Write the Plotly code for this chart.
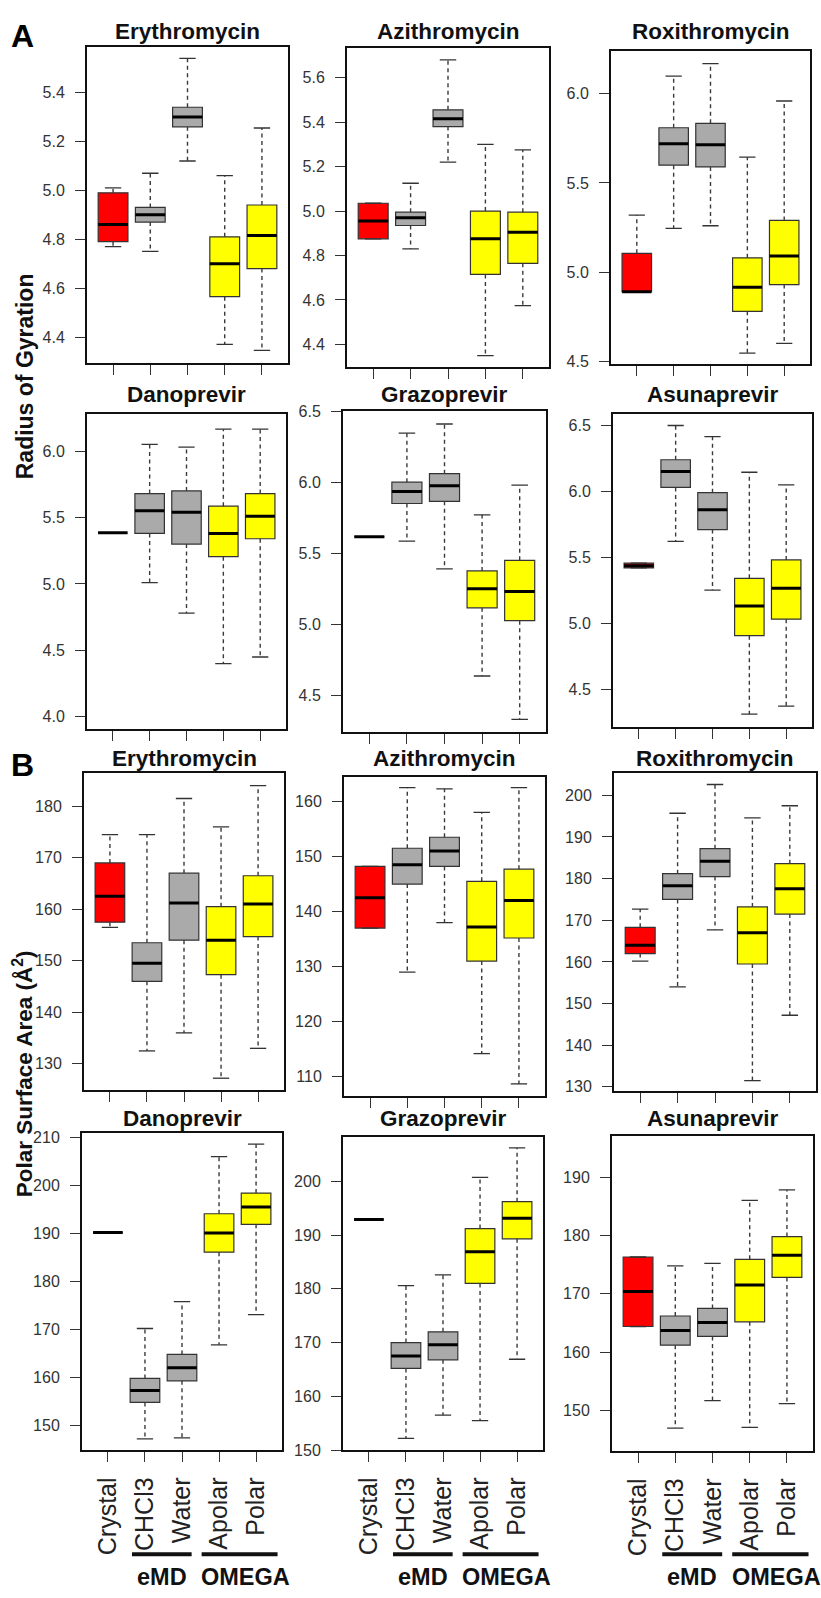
import plotly.graph_objects as go

W, H = 821, 1598
FONT = "Liberation Sans, Arial, sans-serif"

categories = ["Crystal", "CHCl3", "Water", "Apolar", "Polar"]
box_colors = ["#FF0000", "#AAAAAA", "#AAAAAA", "#FFFF00", "#FFFF00"]

# ---------------- Radius of Gyration (A) ----------------
ery_rg_lo  = [4.77, 4.75, 5.12, 4.37, 4.345]
ery_rg_q1  = [4.79, 4.87, 5.26, 4.565, 4.68]
ery_rg_med = [4.86, 4.90, 5.30, 4.70, 4.815]
ery_rg_q3  = [4.99, 4.93, 5.34, 4.81, 4.94]
ery_rg_hi  = [5.01, 5.07, 5.54, 5.06, 5.255]

azi_rg_lo  = [4.875, 4.83, 5.22, 4.35, 4.575]
azi_rg_q1  = [4.875, 4.935, 5.38, 4.715, 4.765]
azi_rg_med = [4.955, 4.97, 5.415, 4.875, 4.905]
azi_rg_q3  = [5.035, 4.995, 5.455, 5.00, 4.995]
azi_rg_hi  = [5.035, 5.125, 5.68, 5.30, 5.275]

rox_rg_lo  = [4.89, 5.245, 5.26, 4.545, 4.60]
rox_rg_q1  = [4.89, 5.60, 5.59, 4.78, 4.93]
rox_rg_med = [4.89, 5.72, 5.715, 4.915, 5.09]
rox_rg_q3  = [5.105, 5.81, 5.835, 5.08, 5.29]
rox_rg_hi  = [5.32, 6.10, 6.17, 5.645, 5.96]

dan_rg_lo  = [5.385, 5.01, 4.78, 4.40, 4.45]
dan_rg_q1  = [5.385, 5.38, 5.30, 5.205, 5.34]
dan_rg_med = [5.385, 5.55, 5.54, 5.38, 5.51]
dan_rg_q3  = [5.385, 5.68, 5.70, 5.585, 5.68]
dan_rg_hi  = [5.385, 6.05, 6.03, 6.165, 6.165]

gra_rg_lo  = [5.615, 5.585, 5.39, 4.635, 4.33]
gra_rg_q1  = [5.615, 5.85, 5.865, 5.115, 5.025]
gra_rg_med = [5.615, 5.935, 5.975, 5.25, 5.23]
gra_rg_q3  = [5.615, 6.00, 6.06, 5.375, 5.45]
gra_rg_hi  = [5.615, 6.345, 6.41, 5.77, 5.98]

asu_rg_lo  = [5.42, 5.62, 5.25, 4.31, 4.37]
asu_rg_q1  = [5.42, 6.03, 5.71, 4.905, 5.03]
asu_rg_med = [5.435, 6.15, 5.86, 5.13, 5.265]
asu_rg_q3  = [5.455, 6.24, 5.99, 5.34, 5.48]
asu_rg_hi  = [5.455, 6.50, 6.415, 6.145, 6.05]

# ---------------- Polar Surface Area (B) ----------------
ery_psa_lo  = [156.5, 132.5, 136.0, 127.2, 133.0]
ery_psa_q1  = [157.5, 146.0, 154.0, 147.3, 154.7]
ery_psa_med = [162.5, 149.5, 161.2, 154.0, 161.0]
ery_psa_q3  = [169.0, 153.5, 167.0, 160.5, 166.5]
ery_psa_hi  = [174.5, 174.5, 181.5, 176.0, 184.0]

azi_psa_lo  = [137.0, 129.0, 138.0, 114.2, 108.7]
azi_psa_q1  = [137.0, 145.0, 148.2, 131.0, 135.2]
azi_psa_med = [142.5, 148.5, 151.0, 137.2, 142.0]
azi_psa_q3  = [148.2, 151.5, 153.5, 145.5, 147.7]
azi_psa_hi  = [148.2, 162.5, 162.3, 158.0, 162.5]

rox_psa_lo  = [160.2, 154.0, 167.7, 131.5, 147.2]
rox_psa_q1  = [162.0, 175.0, 180.5, 159.5, 171.5]
rox_psa_med = [164.0, 178.3, 184.2, 167.0, 177.6]
rox_psa_q3  = [168.3, 181.2, 187.2, 173.2, 183.6]
rox_psa_hi  = [172.7, 195.7, 202.6, 194.6, 197.5]

dan_psa_lo  = [190.2, 147.2, 147.4, 166.8, 173.1]
dan_psa_q1  = [190.2, 154.8, 159.3, 186.1, 191.9]
dan_psa_med = [190.2, 157.3, 162.0, 190.1, 195.5]
dan_psa_q3  = [190.2, 159.8, 164.8, 194.1, 198.4]
dan_psa_hi  = [190.2, 170.2, 175.8, 206.0, 208.6]

gra_psa_lo  = [192.9, 152.2, 156.5, 155.5, 166.9]
gra_psa_q1  = [192.9, 165.2, 166.8, 181.0, 189.3]
gra_psa_med = [192.9, 167.5, 169.6, 186.9, 193.1]
gra_psa_q3  = [192.9, 170.0, 172.0, 191.2, 196.2]
gra_psa_hi  = [192.9, 180.6, 182.6, 200.7, 206.2]

asu_psa_lo  = [164.4, 147.0, 151.7, 147.1, 151.2]
asu_psa_q1  = [164.4, 161.2, 162.7, 165.2, 172.8]
asu_psa_med = [170.4, 163.7, 165.1, 171.5, 176.6]
asu_psa_q3  = [176.3, 166.2, 167.5, 175.9, 179.8]
asu_psa_hi  = [176.3, 174.8, 175.2, 186.0, 187.8]

panel_titles = ["Erythromycin", "Azithromycin", "Roxithromycin",
                "Danoprevir", "Grazoprevir", "Asunaprevir"] * 2

panel_stats = [
    (ery_rg_lo, ery_rg_q1, ery_rg_med, ery_rg_q3, ery_rg_hi),
    (azi_rg_lo, azi_rg_q1, azi_rg_med, azi_rg_q3, azi_rg_hi),
    (rox_rg_lo, rox_rg_q1, rox_rg_med, rox_rg_q3, rox_rg_hi),
    (dan_rg_lo, dan_rg_q1, dan_rg_med, dan_rg_q3, dan_rg_hi),
    (gra_rg_lo, gra_rg_q1, gra_rg_med, gra_rg_q3, gra_rg_hi),
    (asu_rg_lo, asu_rg_q1, asu_rg_med, asu_rg_q3, asu_rg_hi),
    (ery_psa_lo, ery_psa_q1, ery_psa_med, ery_psa_q3, ery_psa_hi),
    (azi_psa_lo, azi_psa_q1, azi_psa_med, azi_psa_q3, azi_psa_hi),
    (rox_psa_lo, rox_psa_q1, rox_psa_med, rox_psa_q3, rox_psa_hi),
    (dan_psa_lo, dan_psa_q1, dan_psa_med, dan_psa_q3, dan_psa_hi),
    (gra_psa_lo, gra_psa_q1, gra_psa_med, gra_psa_q3, gra_psa_hi),
    (asu_psa_lo, asu_psa_q1, asu_psa_med, asu_psa_q3, asu_psa_hi),
]

# y-axis ranges and tick values
y_ranges = [
    (4.292, 5.588), (4.297, 5.735), (4.482, 6.243),
    (3.91, 6.28), (4.243, 6.502), (4.214, 6.588),
    (124.9, 186.4), (106.5, 164.4), (129.0, 205.3),
    (144.8, 211.0), (149.95, 208.3), (143.0, 197.1),
]
y_ticks = [
    [4.4, 4.6, 4.8, 5.0, 5.2, 5.4],
    [4.4, 4.6, 4.8, 5.0, 5.2, 5.4, 5.6],
    [4.5, 5.0, 5.5, 6.0],
    [4.0, 4.5, 5.0, 5.5, 6.0],
    [4.5, 5.0, 5.5, 6.0, 6.5],
    [4.5, 5.0, 5.5, 6.0, 6.5],
    [130, 140, 150, 160, 170, 180],
    [110, 120, 130, 140, 150, 160],
    [130, 140, 150, 160, 170, 180, 190, 200],
    [150, 160, 170, 180, 190, 200, 210],
    [150, 160, 170, 180, 190, 200],
    [150, 160, 170, 180, 190],
]

# panel frames in pixels: (left, right, top, bottom)
frames = [
    (87, 288, 39, 359), (347, 549, 40, 363), (611, 810, 43, 360),
    (87, 286, 410, 728), (343, 546, 407, 731), (613, 812, 410, 726),
    (84, 284, 773, 1093), (344, 545, 777, 1099), (614, 816, 773, 1094),
    (82, 282, 1136, 1457), (343, 543, 1140, 1457), (612, 813, 1139, 1458),
]
title_y = [24, 24, 24, 390, 390, 390, 758, 758, 758, 1122, 1122, 1122]

xpos = [1, 2, 3, 4, 5]
fig = go.Figure()
annotations = []
shapes = []

for i, (st, fr) in enumerate(zip(panel_stats, frames)):
    lo, q1, med, q3, hi = st
    xa = "x" if i == 0 else f"x{i+1}"
    ya = "y" if i == 0 else f"y{i+1}"
    # whiskers (dashed)
    wx, wy = [], []
    for k in range(5):
        wx += [xpos[k], xpos[k], None, xpos[k], xpos[k], None]
        wy += [q3[k], hi[k], None, q1[k], lo[k], None]
    fig.add_trace(go.Scatter(x=wx, y=wy, mode="lines", xaxis=xa, yaxis=ya,
                             line=dict(color="#3a3a3a", width=1.4, dash="4px,3.5px"),
                             showlegend=False, hoverinfo="skip"))
    # caps
    cx, cy = [], []
    for k in range(5):
        cx += [xpos[k] - 0.22, xpos[k] + 0.22, None, xpos[k] - 0.22, xpos[k] + 0.22, None]
        cy += [hi[k], hi[k], None, lo[k], lo[k], None]
    fig.add_trace(go.Scatter(x=cx, y=cy, mode="lines", xaxis=xa, yaxis=ya,
                             line=dict(color="#333333", width=1.3),
                             showlegend=False, hoverinfo="skip"))
    # boxes
    fig.add_trace(go.Bar(x=xpos, y=[b - a for a, b in zip(q1, q3)], base=q1,
                         width=0.8, xaxis=xa, yaxis=ya,
                         marker=dict(color=box_colors,
                                     line=dict(color="#333333", width=1.2)),
                         showlegend=False, hoverinfo="skip"))
    # medians
    mx, my = [], []
    for k in range(5):
        mx += [xpos[k] - 0.4, xpos[k] + 0.4, None]
        my += [med[k], med[k], None]
    fig.add_trace(go.Scatter(x=mx, y=my, mode="lines", xaxis=xa, yaxis=ya,
                             line=dict(color="#000000", width=3),
                             showlegend=False, hoverinfo="skip"))

    L, R, T, B = fr
    bottom_row = i >= 9
    fmt = ".1f" if i < 6 else "d"
    xkey = "xaxis" if i == 0 else f"xaxis{i+1}"
    ykey = "yaxis" if i == 0 else f"yaxis{i+1}"
    fig.update_layout({
        xkey: dict(domain=[L / W, R / W], range=[0.3, 5.7], anchor=ya,
                   showline=True, linecolor="#111111", linewidth=2, mirror=True,
                   ticks="outside", ticklen=10, tickwidth=1.2, tickcolor="#333333",
                   tickvals=xpos, ticktext=categories,
                   showticklabels=bottom_row, tickangle=-90,
                   ticklabelstandoff=5,
                   tickfont=dict(size=25, color="#222222", family=FONT),
                   showgrid=False, zeroline=False, fixedrange=True),
        ykey: dict(domain=[1 - B / H, 1 - T / H], range=list(y_ranges[i]), anchor=xa,
                   showline=True, linecolor="#111111", linewidth=2, mirror=True,
                   ticks="outside", ticklen=10, tickwidth=1.2, tickcolor="#333333",
                   tickvals=y_ticks[i], tickformat=fmt, ticklabelstandoff=7,
                   tickfont=dict(size=16, color="#333333", family=FONT),
                   showgrid=False, zeroline=False, fixedrange=True),
    })
    annotations.append(dict(text=f"<b>{panel_titles[i]}</b>", x=(L + R) / 2 / W,
                            y=1 - title_y[i] / H, xref="paper", yref="paper",
                            xanchor="center", yanchor="middle", showarrow=False,
                            font=dict(size=22.5, color="#111111", family=FONT)))
    if bottom_row:
        # group bars beneath tick labels (in x data coordinates)
        for (g0, g1, gc, gl) in [(1.65, 3.26, 2.45, "eMD"), (3.53, 5.58, 4.72, "OMEGA")]:
            shapes.append(dict(type="line", xref=xa, yref="paper", x0=g0, x1=g1,
                               y0=1 - 1562 / H, y1=1 - 1562 / H,
                               line=dict(color="#111111", width=4)))
            annotations.append(dict(text=f"<b>{gl}</b>", x=gc, xref=xa,
                                    y=1 - 1585 / H, yref="paper",
                                    xanchor="center", yanchor="middle", showarrow=False,
                                    font=dict(size=23.5, color="#111111", family=FONT)))

annotations += [
    dict(text="<b>Radius of Gyration</b>", x=25 / W, y=1 - 372 / H, xref="paper",
         yref="paper", textangle=-90, showarrow=False, xanchor="center", yanchor="middle",
         font=dict(size=23, color="#111111", family=FONT)),
    dict(text="<b>Polar Surface Area (Å<sup>2</sup>)</b>", x=23 / W, y=1 - 1077 / H,
         xref="paper", yref="paper", textangle=-90, showarrow=False,
         xanchor="center", yanchor="middle",
         font=dict(size=22.5, color="#111111", family=FONT)),
    dict(text="<b>A</b>", x=22 / W, y=1 - 28 / H, xref="paper", yref="paper",
         showarrow=False, xanchor="center", yanchor="middle",
         font=dict(size=32, color="#000000", family=FONT)),
    dict(text="<b>B</b>", x=22 / W, y=1 - 765 / H, xref="paper", yref="paper",
         showarrow=False, xanchor="center", yanchor="middle",
         font=dict(size=32, color="#000000", family=FONT)),
]

fig.update_layout(width=W, height=H, margin=dict(l=0, r=0, t=0, b=0),
                  paper_bgcolor="white", plot_bgcolor="white",
                  barmode="overlay", showlegend=False,
                  annotations=annotations, shapes=shapes,
                  font=dict(family=FONT))

fig.write_html("out.html", config={"displayModeBar": False})
